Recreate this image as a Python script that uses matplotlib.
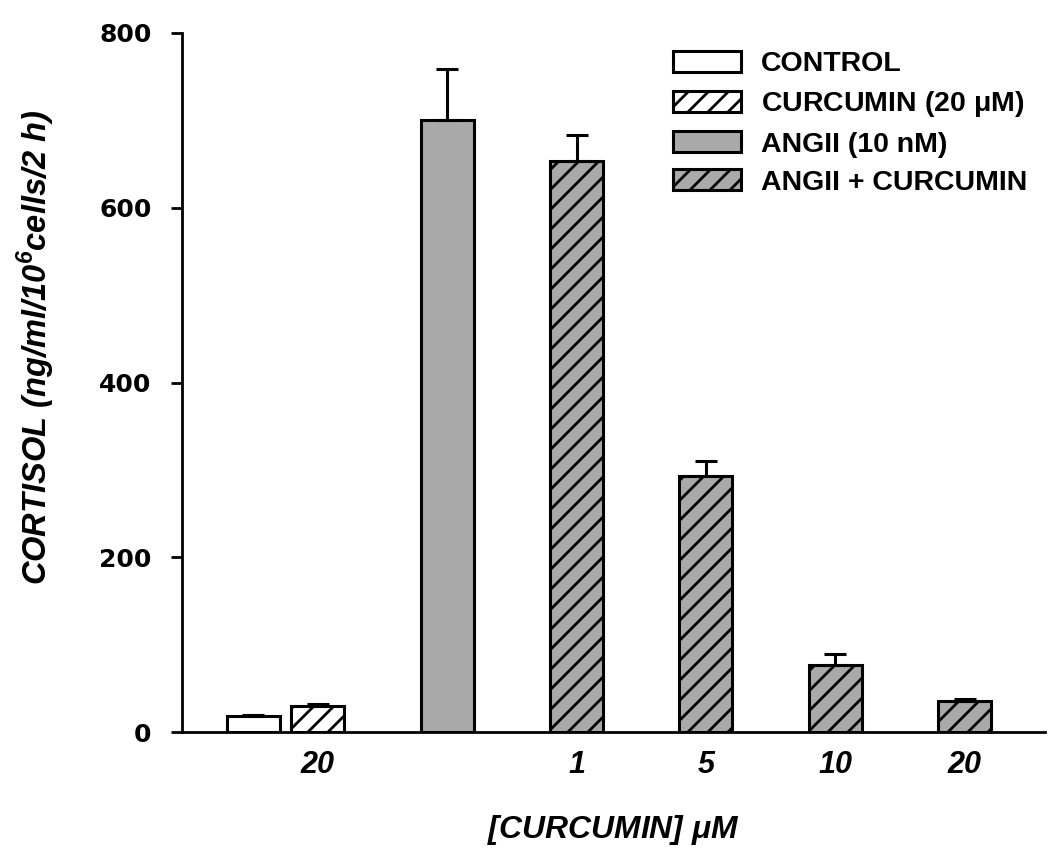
import matplotlib
matplotlib.use('Agg')
from matplotlib import pyplot as plt

## data
groups = ['CONTROL', 'CURCUMIN (20 $\\mathregular{\\mu}$M)', 'ANGII (10 nM)',
          'ANGII + CURCUMIN', 'ANGII + CURCUMIN', 'ANGII + CURCUMIN', 'ANGII + CURCUMIN']
cortisol = [18, 30, 701, 653, 293, 77, 36]
sem = [1, 2, 58, 30, 17, 12, 2]
tick_text = ['20', '1', '5', '10', '20']

## layout / style
xpos = [-1.5, -1.0, 0, 1, 2, 3, 4]
tick_pos = [-1.0, 1, 2, 3, 4]
gray = '#a9a9a9'
faces = ['white', 'white', gray, gray, gray, gray, gray]
hatches = ['', '//', '', '//', '//', '//', '//']

# drawn at 120 dpi so the hatch spacing comes out wider; sizes below are scaled back
DPI = 120
k = 100 / DPI

plt.rcParams['font.family'] = ['Liberation Sans', 'DejaVu Sans']
plt.rcParams['hatch.linewidth'] = 2.0 * k

fig = plt.figure(figsize=(1050 / DPI, 864 / DPI), dpi=DPI)
ax = fig.add_axes([182/1050, 1-732/864, 1-182/1050-0.005, (732-33)/864])

bars = []
for i in range(len(cortisol)):
    b = ax.bar(xpos[i], cortisol[i], width=0.41, color=faces[i], edgecolor='black',
               linewidth=2.2*k, hatch=hatches[i], label=groups[i], zorder=2)
    bars.append(b)
ax.errorbar(xpos, cortisol, yerr=[[0]*len(sem), sem], fmt='none', ecolor='black',
            elinewidth=2.2*k, capsize=8*k, capthick=2.2*k, zorder=3)

ax.set_xlim(-2.05, 4.62)
ax.set_ylim(0, 800)
ax.set_yticks([0, 200, 400, 600, 800])
ax.set_yticklabels(['0', '200', '400', '600', '800'], fontsize=18*k, fontweight='heavy',
                   family='DejaVu Sans')
ax.set_xticks(tick_pos)
ax.set_xticklabels(tick_text, fontsize=22*k, fontweight='bold', style='italic')
ax.tick_params(axis='x', length=0, pad=13*k)
ax.tick_params(axis='y', direction='out', length=8*k, width=2*k, pad=14*k)
ax.spines['top'].set_visible(False)
ax.spines['right'].set_visible(False)
ax.spines['left'].set_linewidth(2*k)
ax.spines['bottom'].set_linewidth(2*k)

ax.set_ylabel('CORTISOL (ng/ml/10$^{\\mathregular{6}}$cells/2 h)', fontsize=23.5*k,
              fontweight='bold', style='italic', labelpad=30*k, y=0.55)
ax.set_xlabel('[CURCUMIN] $\\mathregular{\\mu}$M', fontsize=23*k, fontweight='bold',
              style='italic', labelpad=24*k)

fig.legend(handles=[bars[0], bars[1], bars[2], bars[3]],
           labels=groups[:4], loc='upper left', bbox_to_anchor=(0.627, 0.957),
           frameon=False, prop={'size': 20.5*k, 'weight': 'bold'}, handlelength=2.4,
           handleheight=0.72, handletextpad=0.7, labelspacing=0.42, borderpad=0)

fig.savefig('out.png', dpi=DPI)
